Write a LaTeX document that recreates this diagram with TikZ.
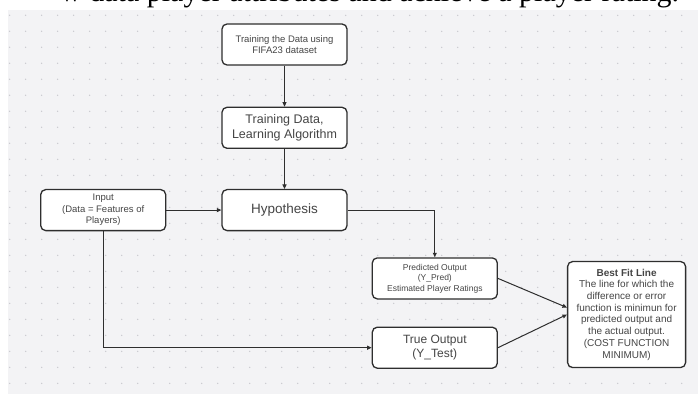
\documentclass[tikz,border=0pt]{standalone}
\usepackage{fontspec}
\setmainfont{Liberation Sans}
\newfontfamily\pageserif{Liberation Serif}
\usepackage{xcolor}
\definecolor{cLine}{HTML}{2E2E2E}
\definecolor{cText}{HTML}{454545}
\definecolor{cBack}{HTML}{F3F3F5}
\definecolor{cDot}{HTML}{C9C9CE}
\usetikzlibrary{positioning,arrows.meta,calc}
\tikzset{
  node-box/.style={draw=cLine,line width=1.3pt,rounded corners=5pt,fill=white,
    minimum height=41pt,minimum width=125pt,align=center,text=cText,
    inner sep=2pt},
  node-big/.style={font=\fontsize{12.5}{14.5}\selectfont},
  node-small/.style={font=\fontsize{9.5}{11.5}\selectfont},
  node-tiny/.style={font=\fontsize{8.5}{10.5}\selectfont},
  arrow/.style={-{Triangle[length=4.5pt,width=4pt]},line width=1pt,draw=cLine},
}

\begin{document}
\begin{tikzpicture}[x=1pt,y=1pt]
  \useasboundingbox (0,0) rectangle (698,394);
  % page background and dot grid
  \fill[cBack] (8,0) rectangle (698,384);
  \foreach \i in {0,...,42} {
    \foreach \j in {0,...,23} {
      \fill[cDot] (9.7+16*\i,378.7-16*\j) circle (0.75pt);
    }
  }
  % caption line of the page, cut by the figure
  \begin{scope}
    \clip (0,384) rectangle (698,394);
    \node[anchor=base west,inner sep=0pt,font=\pageserif\fontsize{30}{32}\selectfont]
      (caption) at (60,392) {w data player attributes and achieve a player rating.};
  \end{scope}

  \node[node-box,node-small] (data) at (284.5,349.5) {Training the Data using\\FIFA23 dataset};
  \node[node-box,node-big,below=41pt of data] (train) {Training Data,\\Learning Algorithm};
  \node[node-box,below=40pt of train,font=\fontsize{13.5}{15}\selectfont] (hypo) {Hypothesis};
  \node[node-box,node-small,left=55pt of hypo] (input) {Input\\(Data = Features of\\Players)};
  \node[node-box,node-tiny,below right=26pt and 24pt of hypo.south east,anchor=north west] (pred)
    {Predicted Output\\(Y\_Pred)\\Estimated Player Ratings};
  \node[node-box,below=27pt of pred,font=\fontsize{12}{14}\selectfont] (true) {True Output\\(Y\_Test)};
  \node[node-box,font=\fontsize{10}{11.7}\selectfont,minimum width=118pt,minimum height=106pt,
    anchor=west] (best) at ($($(pred.east)!.5!(true.east)$)+(69pt,-1.5pt)$)
    {\textbf{Best Fit Line}\\The line for which the\\difference or error\\function is minimun for\\
     predicted output and\\the actual output.\\(COST FUNCTION\\MINIMUM)};

  \draw[arrow] (data) -- (train);
  \draw[arrow] (train) -- (hypo);
  \draw[arrow] (input) -- (hypo);
  \draw[arrow] (hypo.east) -| (pred.north);
  \draw[arrow] (input.south) |- (true.west);
  \draw[arrow] (pred.east) -- ([yshift=7pt]best.west);
  \draw[arrow] (true.east) -- (best.west);
\end{tikzpicture}
\end{document}
